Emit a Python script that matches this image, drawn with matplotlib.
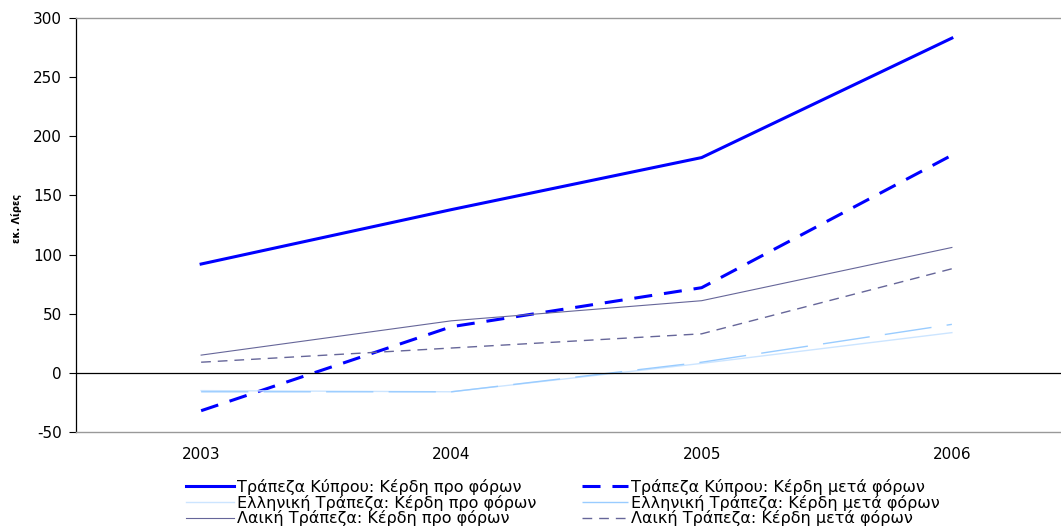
import matplotlib
matplotlib.use("Agg")
import matplotlib.pyplot as plt

plt.rcParams['font.family'] = ['DejaVu Sans']

years = ["2003", "2004", "2005", "2006"]
cyprus_pre = [92, 138, 182, 283]
cyprus_post = [-32, 39, 72, 184]
hellenic_pre = [-15, -16, 8, 34]
hellenic_post = [-16, -16, 9, 41]
laiki_pre = [15, 44, 61, 106]
laiki_post = [9, 21, 33, 88]

labels = [
    "Τράπεζα Κύπρου: Κέρδη προ φόρων",
    "Τράπεζα Κύπρου: Κέρδη μετά φόρων",
    "Ελληνική Τράπεζα: Κέρδη προ φόρων",
    "Ελληνική Τράπεζα: Κέρδη μετά φόρων",
    "Λαική Τράπεζα: Κέρδη προ φόρων",
    "Λαική Τράπεζα: Κέρδη μετά φόρων",
]
yticks = [-50, 0, 50, 100, 150, 200, 250, 300]

W, H = 1061, 531
fig = plt.figure(figsize=(W / 100, H / 100), dpi=100)
left, right, top, bottom = 76, 1077, 18, 432
ax = fig.add_axes([left / W, 1 - bottom / H, (right - left) / W, (bottom - top) / H])

x = list(range(len(years)))
series = [
    (cyprus_pre, dict(color="#0000FF", lw=2.2, ls="-")),
    (cyprus_post, dict(color="#0000FF", lw=2.2, ls=(0, (5.9, 3.9)))),
    (hellenic_pre, dict(color="#CCE5FF", lw=1.0, ls="-")),
    (hellenic_post, dict(color="#99CCFF", lw=1.0, ls=(0, (34, 11)))),
    (laiki_pre, dict(color="#666699", lw=0.8, ls="-")),
    (laiki_post, dict(color="#666699", lw=1.0, ls=(0, (7, 5)))),
]
handles = []
for (vals, st), lab in zip(series, labels):
    ln, = ax.plot(x, vals, label=lab, **st)
    handles.append(ln)

ax.set_xlim(-0.5, len(years) - 0.5)
ax.set_ylim(-50, 300)
ax.set_yticks(yticks)
ax.set_yticklabels([str(v) for v in yticks], fontsize=11)
ax.set_xticks(x)
ax.set_xticklabels(years, fontsize=11)
ax.tick_params(axis='x', length=0, pad=11)
ax.tick_params(axis='y', length=5, width=0.8, direction='out', pad=5)

ax.axhline(0, color="black", lw=0.9)
for s in ["top", "bottom"]:
    ax.spines[s].set_color("#999999")
    ax.spines[s].set_linewidth(1.0)
ax.spines["right"].set_visible(False)
ax.spines["left"].set_color("black")
ax.spines["left"].set_linewidth(0.9)

fig.text(16 / W, 1 - 218 / H, "εκ. Λίρες", rotation=90, fontsize=7, fontweight="bold",
         ha="center", va="center")

common = dict(loc="upper left", frameon=False, fontsize=11.5, handletextpad=0.18,
              labelspacing=-0.02, borderpad=0, borderaxespad=0)
leg1 = fig.legend([handles[i] for i in (0, 2, 4)], [labels[i] for i in (0, 2, 4)],
                  bbox_to_anchor=(186 / W, 1 - 479 / H), handlelength=3.0, **common)
leg2 = fig.legend([handles[i] for i in (1, 3, 5)], [labels[i] for i in (1, 3, 5)],
                  bbox_to_anchor=(582 / W, 1 - 479 / H), handlelength=2.9, **common)

fig.savefig("out.png", dpi=100)
